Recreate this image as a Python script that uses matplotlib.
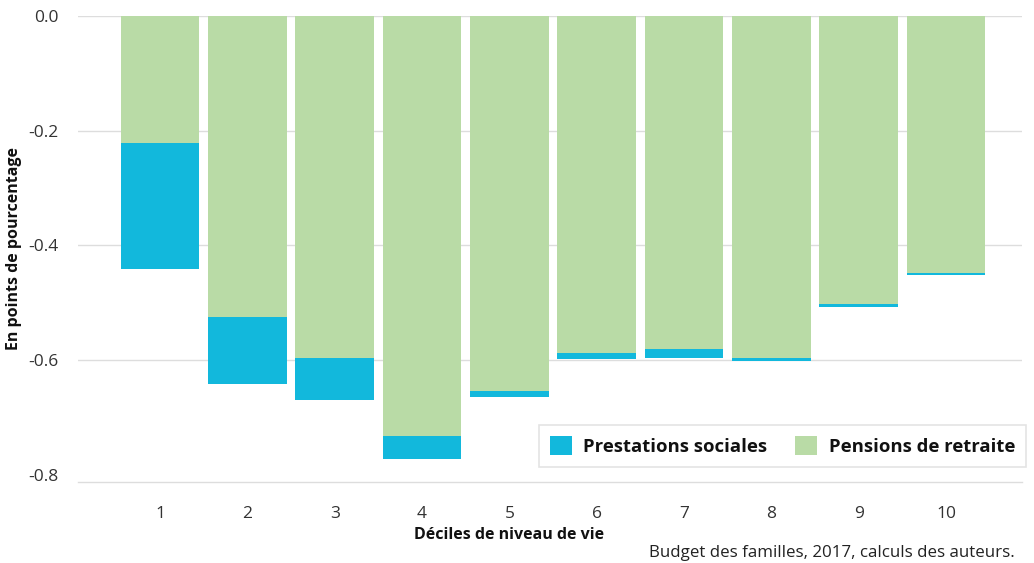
import matplotlib
matplotlib.use("Agg")
import matplotlib.pyplot as plt
from matplotlib.patches import Patch

deciles = ["1", "2", "3", "4", "5", "6", "7", "8", "9", "10"]
pensions = [-0.221, -0.525, -0.597, -0.733, -0.654, -0.588, -0.581, -0.596, -0.503, -0.448]
prestations = [-0.220, -0.116, -0.072, -0.040, -0.010, -0.010, -0.015, -0.005, -0.005, -0.003]
yticks = [0.0, -0.2, -0.4, -0.6, -0.8]

BLUE = "#12B8DC"
GREEN = "#B9DBA6"
plt.rcParams['font.family'] = ['Open Sans', 'DejaVu Sans']

fig = plt.figure(figsize=(10.34, 5.63), dpi=100)
ax = fig.add_axes([78/1034, 1 - 482/563, (1022-78)/1034, (482-16)/563])

x = list(range(1, len(deciles) + 1))
ax.bar(x, pensions, width=0.9, color=GREEN, zorder=2, label="Pensions de retraite")
ax.bar(x, prestations, width=0.9, bottom=pensions, color=BLUE, zorder=2, label="Prestations sociales")

ax.set_xlim(0.06, 10.87)
ax.set_ylim(-0.8125, 0)
ax.set_yticks(yticks)
ax.set_yticklabels([f"{v:.1f}" for v in yticks])
ax.set_xticks(x)
ax.set_xticklabels(deciles)
for v in yticks[:-1]:
    ax.axhline(v, color="#dddddd", linewidth=1, zorder=0)
for s in ["top", "right", "left"]:
    ax.spines[s].set_visible(False)
ax.spines["bottom"].set_color("#dddddd")
ax.spines["bottom"].set_linewidth(1)
ax.tick_params(axis="both", length=0, labelsize=12.5, colors="#333333")
ax.tick_params(axis="x", pad=17)
ax.tick_params(axis="y", pad=14)

fig.text(14/1034, 1 - 249/563, "En points de pourcentage", rotation=90, ha="center", va="center",
         fontsize=11.5, fontweight="bold", color="#111111")
fig.text(509/1034, 1 - 535/563, "Déciles de niveau de vie", ha="center", va="center",
         fontsize=11.5, fontweight="bold", color="#111111")
fig.text(1015/1034, 1 - 561/563, "Budget des familles, 2017, calculs des auteurs.", ha="right", va="bottom",
         fontsize=12.2, color="#222222")

handles = [Patch(facecolor=BLUE, edgecolor="none"), Patch(facecolor=GREEN, edgecolor="none")]
leg = ax.legend(handles, ["Prestations sociales", "Pensions de retraite"], ncol=2,
                loc="lower right", bbox_to_anchor=(1026/1034, 1 - 467/563), bbox_transform=fig.transFigure,
                prop={"size": 13.3, "weight": "bold"}, frameon=True, fancybox=False,
                handlelength=1.2, handleheight=1.2, columnspacing=1.5, handletextpad=0.6,
                borderpad=0.6, borderaxespad=0)
leg.get_frame().set_edgecolor("#dddddd")
leg.get_frame().set_linewidth(1.2)
for t in leg.get_texts():
    t.set_color("#111111")

fig.savefig("out.png", dpi=100)
